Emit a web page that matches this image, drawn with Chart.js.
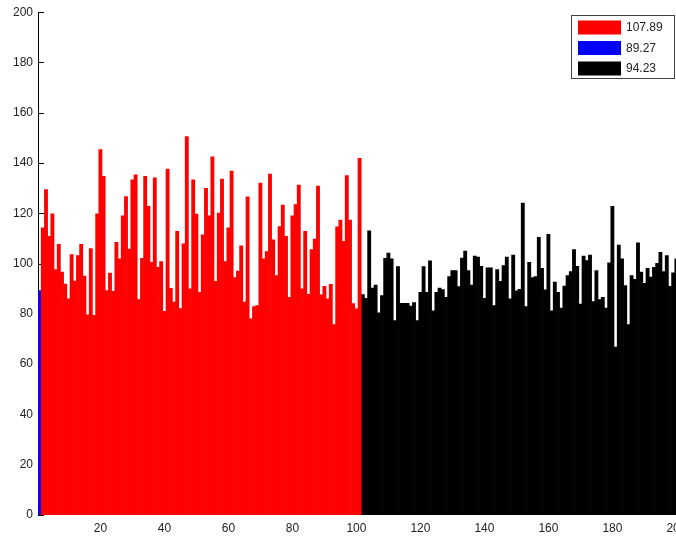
<!DOCTYPE html>
<html>
<head>
<meta charset="utf-8">
<script src="https://cdn.jsdelivr.net/npm/chart.js@4/dist/chart.umd.min.js"></script>
<style>
    html, body { margin: 0; padding: 0; background: #fff; overflow: hidden; }
    #wrap { width: 700px; height: 537px; }
</style>
</head>
<body>
<div id="wrap"><canvas id="myChart" width="700" height="537"></canvas></div>
<script>
// first bar sits at x = 1, the red group starts at 2, the black group at 102
const blueValues = [89.27];
const redValues = [
    114.2, 129.4, 110.8, 119.8, 97.6, 107.7, 96.6, 91.9, 86.0, 103.6,
    93.0, 103.2, 107.7, 95.0, 79.6, 106.0, 79.4, 119.8, 145.4, 134.7,
    89.3, 96.2, 89.0, 108.5, 101.9, 119.0, 126.7, 105.8, 133.3, 135.3,
    85.7, 102.1, 134.7, 122.8, 100.5, 134.1, 98.5, 100.8, 81.0, 137.6,
    90.2, 84.7, 112.8, 82.1, 107.9, 150.5, 90.0, 133.3, 119.7, 88.6,
    111.4, 129.9, 119.0, 142.5, 92.9, 120.1, 133.6, 100.8, 114.2, 136.8,
    94.4, 97.0, 107.1, 84.7, 126.6, 78.0, 82.9, 83.3, 132.0, 101.9,
    104.8, 135.6, 109.5, 95.2, 114.7, 123.3, 110.8, 86.6, 119.0, 123.5,
    131.2, 90.0, 112.8, 87.8, 105.6, 109.8, 130.8, 87.6, 91.0, 86.0,
    91.8, 75.7, 114.6, 117.3, 108.9, 135.0, 117.3, 84.1, 82.0, 141.9
];
const blackValues = [
    87.7, 86.2, 113.0, 90.3, 91.5, 80.4, 87.3, 102.1, 104.2, 101.9,
    77.3, 98.8, 84.2, 84.2, 84.2, 83.1, 84.5, 77.3, 88.6, 98.8,
    88.6, 101.1, 81.2, 88.6, 90.3, 89.7, 86.6, 94.8, 97.2, 97.2,
    90.9, 102.2, 105.0, 97.2, 91.5, 103.0, 102.6, 98.9, 86.2, 98.3,
    98.3, 83.3, 97.6, 92.9, 99.2, 102.6, 86.0, 103.4, 89.2, 89.8,
    124.1, 82.9, 100.5, 94.4, 94.8, 110.4, 98.1, 89.6, 111.6, 81.2,
    92.6, 88.6, 82.3, 91.1, 95.2, 96.8, 105.6, 98.9, 83.9, 103.0,
    101.2, 103.4, 84.9, 97.2, 85.7, 86.6, 82.3, 100.3, 122.8, 66.8,
    107.4, 101.9, 91.3, 75.7, 95.2, 93.7, 108.3, 96.6, 92.2, 98.1,
    94.6, 98.5, 100.1, 104.5, 96.8, 103.2, 91.0, 96.3, 101.9
];
const legendLabels = ['107.89', '89.27', '94.23'];
const xTicks = [20, 40, 60, 80, 100, 120, 140, 160, 180, 200];
const yTicks = [0, 20, 40, 60, 80, 100, 120, 140, 160, 180, 200];

const toPoints = (values, start) => values.map((v, i) => ({ x: start + i, y: v }));

Chart.defaults.font.family = '"Liberation Sans", Arial, sans-serif';
Chart.defaults.font.size = 12;
Chart.defaults.color = '#222';

// MATLAB style: short tick marks pointing into the plot, under the bars
const innerTicks = {
    id: 'innerTicks',
    beforeDatasetsDraw(chart) {
        const c = chart.ctx;
        const area = chart.chartArea;
        c.save();
        c.strokeStyle = '#000';
        c.lineWidth = 1;
        c.beginPath();
        yTicks.forEach(v => {
            const py = Math.round(chart.scales.y.getPixelForValue(v)) + 0.5;
            c.moveTo(area.left, py);
            c.lineTo(area.left + 6, py);
        });
        xTicks.forEach(v => {
            const px = Math.round(chart.scales.x.getPixelForValue(v)) + 0.5;
            c.moveTo(px, area.bottom);
            c.lineTo(px, area.bottom - 6);
        });
        c.stroke();
        c.restore();
    }
};

const boxLegend = {
    id: 'boxLegend',
    afterDraw(chart) {
        const c = chart.ctx;
        c.save();
        c.fillStyle = '#fff';
        c.fillRect(571, 15, 104, 64);
        c.strokeStyle = '#444';
        c.lineWidth = 1;
        c.strokeRect(571.5, 15.5, 103, 63);
        const rowsY = [27.5, 48, 68.5];
        chart.data.datasets.forEach((ds, i) => {
            c.fillStyle = ds.backgroundColor;
            c.fillRect(578, rowsY[i] - 7, 43, 14);
            c.fillStyle = '#222';
            c.font = '12px "Liberation Sans", Arial, sans-serif';
            c.textBaseline = 'middle';
            c.textAlign = 'left';
            c.fillText(ds.label, 626, rowsY[i] + 0.5);
        });
        c.restore();
    }
};

const ctx = document.getElementById('myChart').getContext('2d');
new Chart(ctx, {
    type: 'bar',
    data: {
        datasets: [
            { label: legendLabels[0], data: toPoints(redValues, 2), backgroundColor: '#ff0000' },
            { label: legendLabels[1], data: toPoints(blueValues, 1), backgroundColor: '#0000ff' },
            { label: legendLabels[2], data: toPoints(blackValues, 102), backgroundColor: '#000000' }
        ]
    },
    options: {
        responsive: false,
        animation: false,
        grouped: false,
        barPercentage: 1,
        categoryPercentage: 1,
        borderWidth: 0,
        layout: { padding: { top: 12, right: 22, left: 0, bottom: 0 } },
        plugins: { legend: { display: false }, tooltip: { enabled: false } },
        scales: {
            x: {
                type: 'linear',
                min: 0.5,
                max: 200.5,
                offset: false,
                afterBuildTicks: s => { s.ticks = xTicks.map(v => ({ value: v })); },
                ticks: { padding: 6, maxRotation: 0 },
                grid: { display: false, drawTicks: false, offset: false },
                border: { display: false },
                afterFit: s => { s.height = 22; }
            },
            y: {
                min: 0,
                max: 200,
                afterBuildTicks: s => { s.ticks = yTicks.map(v => ({ value: v })); },
                ticks: { padding: 5 },
                grid: { display: false, drawTicks: false },
                border: { display: true, color: '#000', width: 1 },
                afterFit: s => { s.width = 38; }
            }
        }
    },
    plugins: [innerTicks, boxLegend]
});
</script>
</body>
</html>
